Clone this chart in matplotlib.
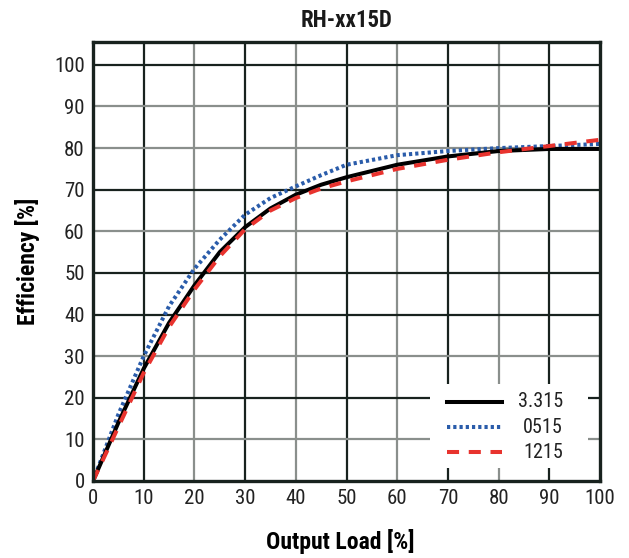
import matplotlib
matplotlib.use("Agg")
import matplotlib.pyplot as plt

plt.rcParams['font.family'] = ['Roboto Condensed', 'DejaVu Sans']

# Données
charge = [0, 5, 10, 15, 20, 25, 30, 35, 40, 45, 50, 60, 70, 80, 90, 100]
eff_3315 = [0, 14, 27, 38, 47, 55, 61, 65.5, 68.8, 71.2, 73, 76, 78, 79.3, 79.8, 79.8]
eff_0515 = [0, 16, 30, 42, 51, 58, 64, 68, 70.8, 73.5, 76, 78.3, 79.3, 80, 80.5, 81]
eff_1215 = [0, 13, 26, 37, 46, 54, 60.5, 65, 68, 70.3, 72, 75, 77.2, 79, 80.5, 82]
etiquettes = ['3.315', '0515', '1215']

fonce = '#18221e'
gris = '#8a8f8c'

fig = plt.figure(figsize=(6.29, 5.58), dpi=100)
ax = fig.add_axes([93/629, 1 - 481/558, 507/629, 439/558])

# Grille alternée foncée / grise
for v in range(10, 100, 10):
    ax.axvline(v, color=fonce if (v // 10) % 2 else gris, lw=1.6, zorder=1)
lignes_foncees = [100, 70, 50, 40, 20]
for v in range(10, 101, 10):
    ax.axhline(v, color=fonce if v in lignes_foncees else gris, lw=1.6, zorder=1)

styles = [dict(color='black', ls='-'),
          dict(color='#2a5caa', ls=(0, (0.8, 0.75))),
          dict(color='#e8332e', ls=(0, (3, 2.4)))]

ax.plot(charge, eff_0515, lw=2.9, zorder=3, **styles[1])
ax.plot(charge, eff_3315, lw=2.9, zorder=4, **styles[0])
ax.plot(charge, eff_1215, lw=2.9, zorder=5, **styles[2])

# Légende dessinée à la main (texte aligné à droite)
ax.add_patch(plt.Rectangle((0.665, 0.03), 0.311, 0.19, transform=ax.transAxes,
                           facecolor='white', edgecolor='none', zorder=6))
y_leg = [0.180, 0.123, 0.066]
for st, lab, yy in zip(styles, etiquettes, y_leg):
    ax.plot([0.698, 0.807], [yy, yy], transform=ax.transAxes, lw=2.9, zorder=7, **st)
    ax.text(0.927, yy, lab, transform=ax.transAxes, ha='right', va='center',
            fontsize=14.5, zorder=7, color='#222222')

ax.set_xlim(0, 100)
ax.set_ylim(0, 105.5)
ax.set_xticks(range(0, 101, 10))
ax.set_yticks(range(0, 101, 10))
ax.tick_params(labelsize=15, length=0, pad=6, labelcolor='#222222')
for s in ax.spines.values():
    s.set_linewidth(2.4)
    s.set_color(fonce)
    s.set_zorder(8)

ax.set_title('RH-xx15D', fontsize=16.5, fontweight='bold', pad=11, color='#1a1a1a')
ax.set_xlabel('Output Load [%]', fontsize=17, fontweight='bold', labelpad=14)
ax.set_ylabel('Efficiency [%]', fontsize=17, fontweight='bold', labelpad=10)
ax.xaxis.set_label_coords(0.488, -0.11)

fig.savefig('out.png', dpi=100)
